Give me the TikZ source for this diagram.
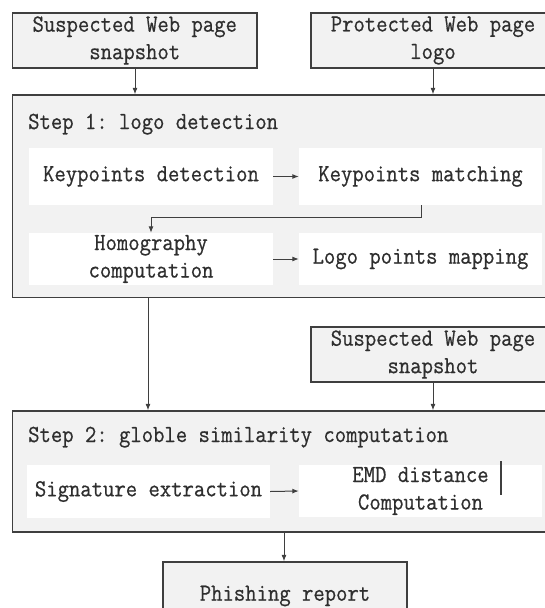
\documentclass[tikz,border=0pt]{standalone}
\usepackage{fontspec}
\setmainfont{Latin Modern Mono}[FakeStretch=0.9, FakeBold=0.6]
\usetikzlibrary{arrows.meta}
\definecolor{boxfill}{HTML}{F2F2F2}
\definecolor{boxline}{HTML}{3F3F3F}
\definecolor{txt}{HTML}{2E2E2E}
\tikzset{
  gbox/.style={draw=boxline, fill=boxfill, line width=1.3pt, inner sep=0pt, align=center, text=txt},
  wbox/.style={draw=none, fill=white, inner sep=0pt, align=center, text=txt},
  lbl/.style={anchor=base west, inner sep=0pt, text=txt},
  conn/.style={draw=boxline, line width=1pt, -{Latex[length=6.5pt,width=5pt]}},
  plain/.style={draw=boxline, line width=1.1pt}
}
\newcommand{\bx}[6]{%
  \node[#2, minimum width={(#5-#3)*1pt}, minimum height={(#6-#4)*1pt}] (#1) at ({(#3+#5)/2}, {(#4+#6)/2})}
\begin{document}
\begin{tikzpicture}[x=1pt, y=-1pt, font=\fontsize{24.5}{27.5}\selectfont\frenchspacing]
\useasboundingbox (0,0) rectangle (545,608);
\clip (0,0) rectangle (545,608);
\bx{sws}{gbox}{12.5}{13}{257}{68} {Suspected Web page\\snapshot};
\bx{pwl}{gbox}{311}{13}{555}{68} {Protected Web page\\logo};
\bx{stepone}{gbox}{12.5}{95}{580}{297.5} {};
\node[lbl] (steponelbl) at (28,129) {Step 1: logo detection};
\bx{kd}{wbox}{29}{148}{273}{205} {Keypoints detection};
\bx{km}{wbox}{299}{148}{542}{205} {Keypoints matching};
\bx{hc}{wbox}{29}{233}{273}{285} {Homography\\computation};
\bx{lpm}{wbox}{299}{233}{542}{285} {Logo points mapping};
\bx{swstwo}{gbox}{311}{327}{555}{382} {Suspected Web page\\snapshot};
\bx{steptwo}{gbox}{12.5}{411}{580}{532} {};
\node[lbl] (steptwolbl) at (28,442) {Step 2: globle similarity computation};
\bx{se}{wbox}{27}{465}{270}{518} {Signature extraction};
\bx{emd}{wbox}{299}{465}{542}{517} {EMD distance\\Computation};
\bx{pr}{gbox}{163}{562}{407}{630} {Phishing report};
\coordinate (barA) at (501,461);
\coordinate (barB) at (501,495);
\draw[plain] (barA) -- (barB);
% connectors
\draw[conn] (sws.south -| 135,0) -- (stepone.north -| 135,0);
\draw[conn] (pwl.south -| 433,0) -- (stepone.north -| 433,0);
\draw[conn] (kd.east) -- (km.west);
\draw[conn] (km.south -| 421,0) -- (421,217) -- (151,217) -- (hc.north -| 151,0);
\draw[conn] (hc.east) -- (lpm.west);
\draw[conn] (stepone.south -| 148,0) -- (steptwo.north -| 148,0);
\draw[conn] (swstwo.south -| 433,0) -- (steptwo.north -| 433,0);
\draw[conn] (se.east) -- (emd.west);
\draw[conn] (steptwo.south -| 284,0) -- (pr.north -| 284,0);
\end{tikzpicture}
\end{document}
